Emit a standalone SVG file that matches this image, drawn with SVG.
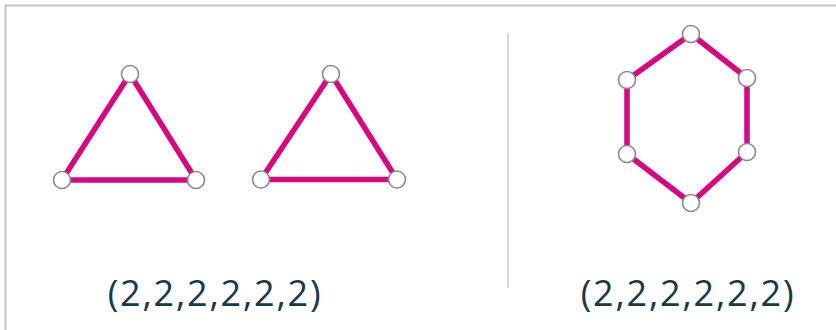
<svg xmlns="http://www.w3.org/2000/svg" width="836" height="330" viewBox="0 0 836 330">
<style>
.edge{stroke:#d6087f;stroke-width:5.5;stroke-linecap:butt;fill:none}
.node{fill:#fff;stroke:#8a8a8a;stroke-width:1.6}
.label{font-family:"Open Sans","Noto Sans",sans-serif;font-size:36px;letter-spacing:1.8px;fill:#17384d;text-anchor:middle}
.frame{stroke:#c4c4c4;stroke-width:2;fill:none}
.divider{stroke:#d8d8d8;stroke-width:2}
</style>
<rect x="0" y="0" width="836" height="330" fill="#fff"/>
<path class="frame" d="M5.5 330 V5.5 H836"/>
<line class="divider" x1="508" y1="33" x2="508" y2="288"/>
<g id="connectors">
<line class="edge" x1="130" y1="74" x2="62" y2="180"/>
<line class="edge" x1="130" y1="74" x2="196" y2="180"/>
<line class="edge" x1="62" y1="180" x2="196" y2="180"/>
<line class="edge" x1="331" y1="74" x2="261" y2="179.5"/>
<line class="edge" x1="331" y1="74" x2="397" y2="179.5"/>
<line class="edge" x1="261" y1="179.5" x2="397" y2="179.5"/>
<line class="edge" x1="691" y1="34" x2="627" y2="80"/>
<line class="edge" x1="691" y1="34" x2="747" y2="78"/>
<line class="edge" x1="627" y1="80" x2="627" y2="154"/>
<line class="edge" x1="747" y1="78" x2="747" y2="152"/>
<line class="edge" x1="627" y1="154" x2="691" y2="203"/>
<line class="edge" x1="747" y1="152" x2="691" y2="203"/>
</g>
<g id="t1a"><circle class="node" cx="130" cy="74" r="8.5"/></g>
<g id="t1b"><circle class="node" cx="62" cy="180" r="8.5"/></g>
<g id="t1c"><circle class="node" cx="196" cy="180" r="8.5"/></g>
<g id="t2a"><circle class="node" cx="331" cy="74" r="8.5"/></g>
<g id="t2b"><circle class="node" cx="261" cy="179.5" r="8.5"/></g>
<g id="t2c"><circle class="node" cx="397" cy="179.5" r="8.5"/></g>
<g id="h1"><circle class="node" cx="691" cy="34" r="8.5"/></g>
<g id="h2"><circle class="node" cx="627" cy="80" r="8.5"/></g>
<g id="h3"><circle class="node" cx="747" cy="78" r="8.5"/></g>
<g id="h4"><circle class="node" cx="627" cy="154" r="8.5"/></g>
<g id="h5"><circle class="node" cx="747" cy="152" r="8.5"/></g>
<g id="h6"><circle class="node" cx="691" cy="203" r="8.5"/></g>
<text class="label" x="215" y="306">(2,2,2,2,2,2)</text>
<text class="label" x="688" y="306">(2,2,2,2,2,2)</text>
</svg>
